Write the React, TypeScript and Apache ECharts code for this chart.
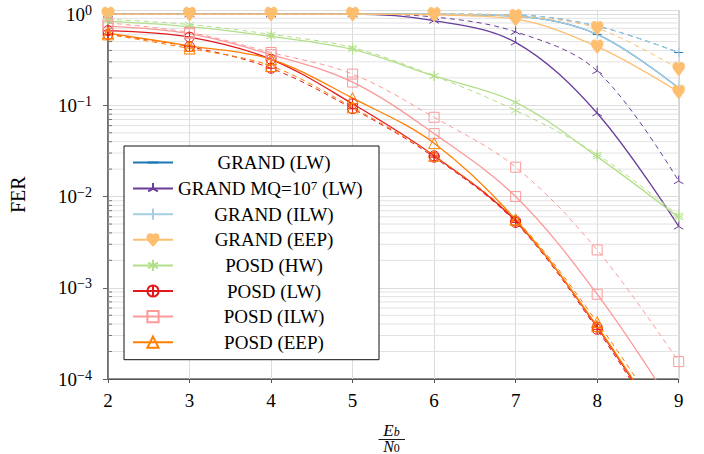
import React, { useEffect, useRef } from "react";
import * as echarts from "echarts";

const FONT = "'Liberation Serif', 'Times New Roman', serif";

const snr = [2, 3, 4, 5, 6, 7, 8, 9];
const yTickDecades = [-4, -3, -2, -1, 0];

// solid curves (legend entries)
const grandLW = [1, 1, 1, 1, 0.995, 0.95, 0.6, 0.155];
const grandMQ = [1, 1, 1, 1, 0.85, 0.49, 0.082, 0.0047];
const grandILW = [1, 1, 1, 1, 0.995, 0.95, 0.6, 0.155];
const grandEEP = [1, 1, 1, 1, 0.98, 0.88, 0.44, 0.14];
const posdHW = [0.84, 0.73, 0.57, 0.41, 0.21, 0.108, 0.0274, 0.0059];
const posdLW = [0.66, 0.56, 0.32, 0.104, 0.028, 0.0054, 0.00037, 0.000015];
const posdILW = [0.74, 0.61, 0.36, 0.18, 0.049, 0.01, 0.00085, 0.00004];
const posdEEP = [0.62, 0.45, 0.32, 0.12, 0.0385, 0.0056, 0.00038, 0.000016];

// dashed companion curves
const grandLWd = [1, 1, 1, 1, 1, 0.98, 0.74, 0.38];
const grandMQd = [1, 1, 1, 1, 0.93, 0.64, 0.238, 0.0148];
const grandILWd = [1, 1, 1, 1, 1, 0.98, 0.74, 0.38];
const grandEEPd = [1, 1, 1, 1, 1, 0.95, 0.7, 0.25];
const posdHWd = [0.88, 0.77, 0.6, 0.43, 0.21, 0.088, 0.029, 0.0062];
const posdLWd = [0.6, 0.44, 0.255, 0.092, 0.027, 0.0052, 0.00035, 0.000014];
const posdILWd = [0.8, 0.63, 0.38, 0.22, 0.074, 0.021, 0.0026, 0.000155];
const posdEEPd = [0.6, 0.42, 0.27, 0.095, 0.028, 0.0056, 0.00042, 0.00002];

const names = [
  "GRAND (LW)",
  "GRAND MQ=10^7 (LW)",
  "GRAND (ILW)",
  "GRAND (EEP)",
  "POSD (HW)",
  "POSD (LW)",
  "POSD (ILW)",
  "POSD (EEP)",
];
const colors = ["#1f78b4", "#6a3d9a", "#a6cee3", "#fdbf6f", "#b2df8a", "#e31a1c", "#fb9a99", "#ff7f00"];
const solidData = [grandLW, grandMQ, grandILW, grandEEP, posdHW, posdLW, posdILW, posdEEP];
const dashedData = [grandLWd, grandMQd, grandILWd, grandEEPd, posdHWd, posdLWd, posdILWd, posdEEPd];

const SYM_DASH = "path://M0,0 M10,10 M0,5 L10,5";
const SYM_BAR = "path://M0,0 M10,10 M5,0 L5,10";
const SYM_MERC = "path://M0,0 M10,10 M5,5 L5,0 M5,5 L0.67,7.5 M5,5 L9.33,7.5";
const SYM_AST = "path://M0,0 M10,10 M5,0 L5,10 M0.67,2.5 L9.33,7.5 M0.67,7.5 L9.33,2.5";
const SYM_OPLUS = "path://M0,5 A5,5 0 1,0 10,5 A5,5 0 1,0 0,5 Z M5,0 L5,10 M0,5 L10,5";
const SYM_HEART =
  "path://M5,10 L1,5.5 C-0.5,3.8 -0.2,0.6 2.2,0.1 C3.6,-0.2 4.6,0.7 5,1.8 C5.4,0.7 6.4,-0.2 7.8,0.1 C10.2,0.6 10.5,3.8 9,5.5 Z";

const symbols = [SYM_DASH, SYM_MERC, SYM_BAR, SYM_HEART, SYM_AST, SYM_OPLUS, "rect", "triangle"];
const symbolSizes: any[] = [9, 11, 9, [12, 14], 10, 10, 10, 11];
const filled = [false, false, false, true, false, false, false, false];

const minorValues: number[] = [];
for (let d = -4; d < 0; d++) {
  for (let k = 2; k <= 9; k++) minorValues.push(k * Math.pow(10, d));
}

export default function App() {
  const ref = useRef<HTMLDivElement>(null);
  useEffect(() => {
    if (!ref.current) return;
    const chart = echarts.init(ref.current, undefined, { renderer: "svg" });

    const mkSeries = (i: number, dashed: boolean) => {
      const c = colors[i];
      return {
        type: "line",
        name: dashed ? names[i] + " (dashed)" : names[i],
        data: snr.map((x, j) => [x, (dashed ? dashedData : solidData)[i][j]]),
        smooth: 0.35,
        clip: true,
        z: 3,
        symbol: symbols[i],
        symbolSize: symbolSizes[i],
        showSymbol: true,
        color: c,
        lineStyle: {
          color: c,
          width: dashed ? 1 : 1.3,
          type: dashed ? [5, 4] : "solid",
        },
        itemStyle: {
          color: filled[i] ? c : "rgba(0,0,0,0)",
          borderColor: c,
          borderWidth: filled[i] ? 0.5 : 1,
        },
        emphasis: { disabled: true },
      };
    };

    const series: any[] = [
      {
        type: "custom",
        name: "minor",
        z: 1,
        silent: true,
        data: minorValues.map((v) => [2, v]),
        encode: { x: 0, y: 1 },
        renderItem: (params: any, api: any) => {
          const p = api.coord([2, api.value(1)]);
          const cs = params.coordSys;
          return {
            type: "group",
            children: [
              {
                type: "line",
                shape: { x1: cs.x, y1: p[1], x2: cs.x + cs.width, y2: p[1] },
                style: { stroke: "#e2e2e2", lineWidth: 1 },
              },
              {
                type: "line",
                shape: { x1: cs.x, y1: p[1], x2: cs.x + 4, y2: p[1] },
                style: { stroke: "#777", lineWidth: 1 },
              },
            ],
          };
        },
      },
    ];
    for (let i = 0; i < names.length; i++) {
      series.push(mkSeries(i, false));
      series.push(mkSeries(i, true));
    }

    const MQ = names[1];
    chart.setOption({
      animation: false,
      backgroundColor: "#fff",
      textStyle: { fontFamily: FONT },
      grid: {
        left: 105.4,
        right: 25.3,
        top: 10.5,
        bottom: 75,
        show: true,
        borderColor: "#222",
        borderWidth: 1,
        backgroundColor: "transparent",
      },
      xAxis: {
        type: "value",
        min: 2,
        max: 9,
        interval: 1,
        axisLine: { lineStyle: { color: "#555", width: 1.2 } },
        axisTick: { show: true, length: 4, lineStyle: { color: "#555" } },
        axisLabel: { color: "#000", fontSize: 19, fontFamily: FONT, margin: 12 },
        splitLine: { show: true, lineStyle: { color: "#dcdcdc", width: 1 } },
      },
      yAxis: {
        type: "log",
        logBase: 10,
        min: 1e-4,
        max: Math.pow(10, 0.04),
        name: "FER",
        nameLocation: "middle",
        nameGap: 80,
        nameTextStyle: { color: "#000", fontSize: 20, fontFamily: FONT },
        axisLine: { show: true, lineStyle: { color: "#666", width: 1.5 } },
        axisTick: { show: true, length: 5, lineStyle: { color: "#666" } },
        splitLine: { show: true, lineStyle: { color: "#dcdcdc", width: 1 } },
        axisLabel: {
          margin: 16,
          formatter: (v: number) => {
            const l = Math.log10(v);
            const e = Math.round(l);
            if (Math.abs(l - e) > 0.01 || yTickDecades.indexOf(e) < 0) return "";
            return e === 0 ? "{b|10}{s|0}" : "{b|10}{s|\u2212" + -e + "}";
          },
          rich: {
            b: { fontSize: 19, fontFamily: FONT, color: "#000", lineHeight: 22 },
            s: { fontSize: 14, fontFamily: FONT, color: "#000", verticalAlign: "top", lineHeight: 12 },
          },
        },
      },
      legend: {
        data: names,
        orient: "vertical",
        left: 124,
        top: 146,
        padding: [7, 9, 8, 8],
        itemWidth: 40,
        itemHeight: 14,
        itemGap: 6.6,
        selectedMode: false,
        backgroundColor: "#fff",
        borderColor: "#111",
        borderWidth: 1,
        borderRadius: 0,
        formatter: (name: string) =>
          name === MQ ? "{m|GRAND MQ=10}{sup|7}{m| (LW)}" : "{c|" + name + "}",
        textStyle: {
          fontFamily: FONT,
          fontSize: 19,
          color: "#000",
          rich: {
            c: { width: 192, align: "center", fontSize: 19, fontFamily: FONT, color: "#000", lineHeight: 20 },
            m: { fontSize: 19, fontFamily: FONT, color: "#000", lineHeight: 20 },
            sup: { fontSize: 13, fontFamily: FONT, color: "#000", verticalAlign: "top", lineHeight: 11 },
          },
        },
      },
      graphic: [
        {
          type: "text",
          x: 391.5,
          y: 430,
          style: {
            text: "{e|E}{s|b}",
            align: "center",
            verticalAlign: "middle",
            rich: {
              e: { fontSize: 17, fontStyle: "italic", fontFamily: FONT, fill: "#000", lineHeight: 16 },
              s: { fontSize: 12, fontStyle: "italic", fontFamily: FONT, fill: "#000", verticalAlign: "bottom", lineHeight: 12 },
            },
          },
        },
        {
          type: "line",
          shape: { x1: 378.5, y1: 439.5, x2: 405, y2: 439.5 },
          style: { stroke: "#000", lineWidth: 0.9 },
        },
        {
          type: "text",
          x: 391.5,
          y: 446.5,
          style: {
            text: "{e|N}{s|0}",
            align: "center",
            verticalAlign: "middle",
            rich: {
              e: { fontSize: 16, fontStyle: "italic", fontFamily: FONT, fill: "#000", lineHeight: 14 },
              s: { fontSize: 12, fontFamily: FONT, fill: "#000", verticalAlign: "bottom", lineHeight: 11 },
            },
          },
        },
      ],
      series,
    });
    return () => chart.dispose();
  }, []);
  return (
    <div
      ref={ref}
      style={{ position: "fixed", left: 0, top: 0, width: 704, height: 454, background: "#fff" }}
    />
  );
}
